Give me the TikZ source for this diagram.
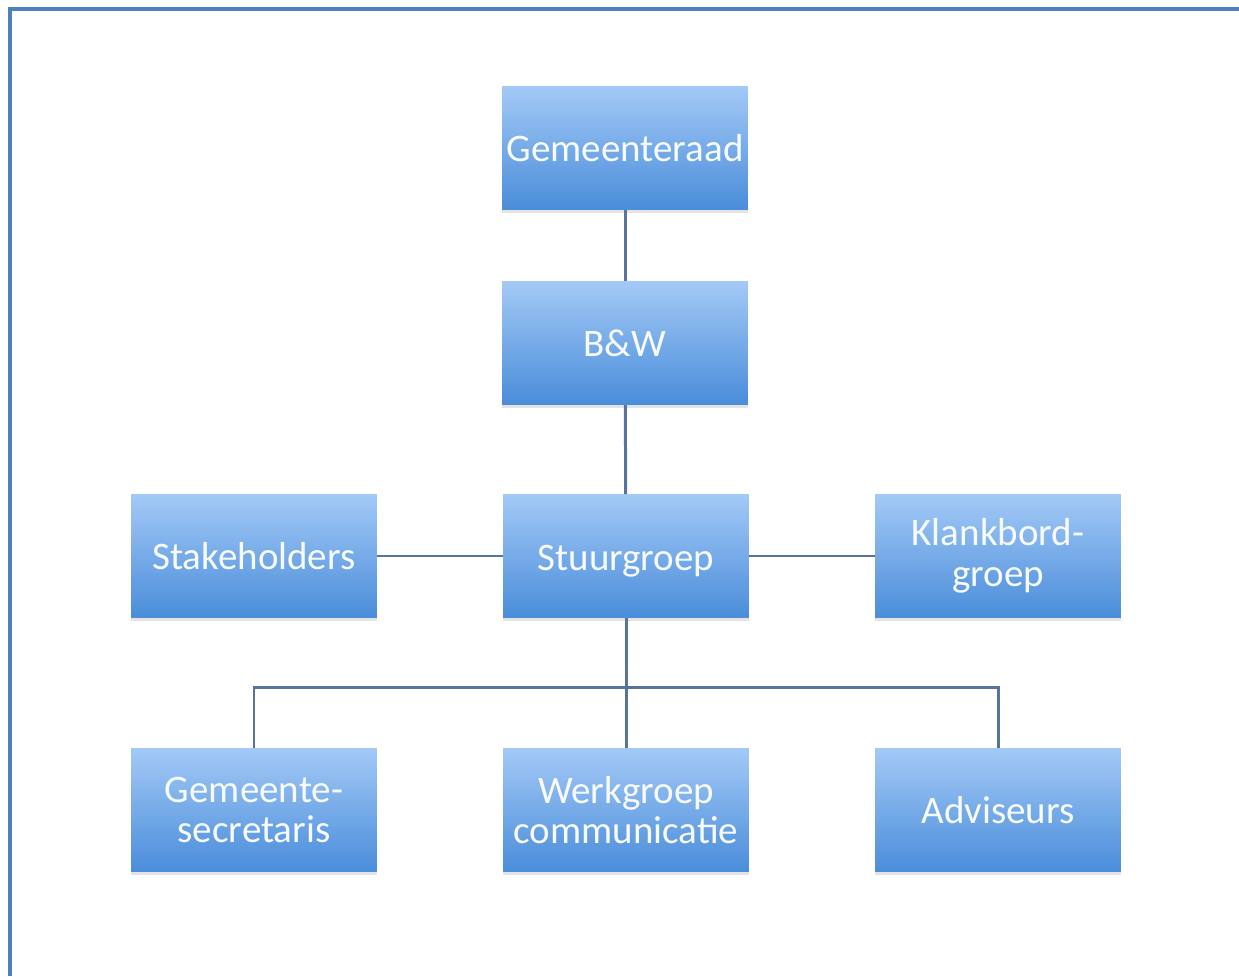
\documentclass[tikz,border=0pt]{standalone}
\usepackage{fontspec}
\setmainfont{Carlito}
\usetikzlibrary{shadows}
\definecolor{boxtop}{RGB}{163,201,246}
\definecolor{boxbottom}{RGB}{74,141,218}
\definecolor{linkblue}{RGB}{88,115,158}
\definecolor{framblue}{RGB}{79,129,189}
\tikzset{
	orgbox/.style={rectangle, inner xsep=0pt, minimum width=4.92cm, minimum height=2.46cm, top color=boxtop, bottom color=boxbottom, draw=none, text=white!92!boxtop, align=center, font=\fontsize{22.2}{23}\selectfont, drop shadow={opacity=0.22, shadow xshift=0pt, shadow yshift=-2pt}},
	orglink/.style={linkblue, line width=1.7pt}
}
\begin{document}
\begin{tikzpicture}[x=0.02cm, y=-0.02cm]
		\useasboundingbox (0,0) rectangle (1239,976);
		\fill[white] (0,0) rectangle (1239,976);
		\draw[framblue, line width=1.8pt] (10,976) -- (10,9) -- (1239,9);
		% boxes
		\node[orgbox] (raad) at (625,148) {Gemeenteraad};
		\node[orgbox] (bw) at (625,343) {B\&W};
		\node[orgbox] (stuur) at (626,556) {\rule{0pt}{20pt}Stuurgroep};
		\node[orgbox] (stake) at (254,556) {Stakeholders};
		\node[orgbox] (klank) at (998,556) {Klankbord-\\groep};
		\node[orgbox] (secr) at (254,810) {Gemeente-\\secretaris};
		\node[orgbox] (werk) at (626,810) {Werkgroep\\communicatie};
		\node[orgbox] (advi) at (998,810) {Adviseurs};
		\coordinate (bus) at (626,687);
		% lines
		\draw[orglink] (raad) -- (bw);
		\draw[orglink] (bw) -- (stuur);
		\draw[orglink] (stake) -- (stuur);
		\draw[orglink] (stuur) -- (klank);
		\draw[orglink] (stuur) -- (werk);
		\draw[orglink] (secr.north) -- (secr.north |- bus) -- (advi.north |- bus) -- (advi.north);
	\end{tikzpicture}
\end{document}
